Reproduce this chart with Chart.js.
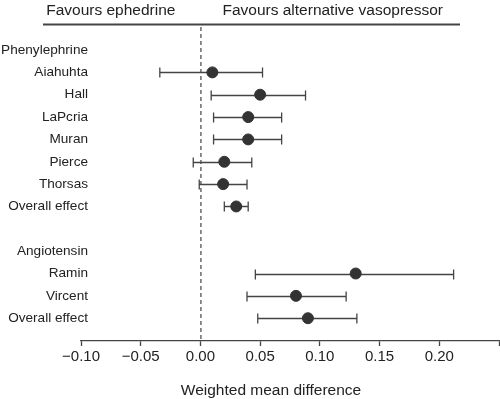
<!DOCTYPE html>
<html>
<head>
<meta charset="utf-8">
<script src="https://cdn.jsdelivr.net/npm/chart.js@4.4.1/dist/chart.umd.min.js"></script>
<style>
  html, body { margin: 0; padding: 0; background: #fff; overflow: hidden; }
  #wrap { width: 500px; height: 399px; }
</style>
</head>
<body>
<div id="wrap"><canvas id="forest"></canvas></div>
<script>
// rows top to bottom; group headers and the blank spacer have no estimate
const rowLabels = ['Phenylephrine', 'Aiahuhta', 'Hall', 'LaPcria', 'Muran', 'Pierce', 'Thorsas', 'Overall effect',
    '', 'Angiotensin', 'Ramin', 'Vircent', 'Overall effect'];
const estimates = [null, 0.010, 0.050, 0.040, 0.040, 0.020, 0.019, 0.030, null, null, 0.130, 0.080, 0.090];
const lowerCI   = [null, -0.034, 0.009, 0.011, 0.011, -0.006, -0.001, 0.020, null, null, 0.046, 0.039, 0.048];
const upperCI   = [null, 0.052, 0.088, 0.068, 0.068, 0.043, 0.039, 0.040, null, null, 0.212, 0.122, 0.131];
const xTicks = [-0.10, -0.05, 0.00, 0.05, 0.10, 0.15, 0.20, 0.25];

const INK = '#222';
const LINE = '#444';
const FONT = "'Liberation Sans', Arial, sans-serif";

const points = [];
estimates.forEach((v, i) => { if (v !== null) points.push({ x: v, y: i }); });

// whiskers, row labels, header, zero line
const forestPlugin = {
    id: 'forest',
    beforeDatasetsDraw(chart) {
        const { ctx, chartArea, scales: { x, y } } = chart;
        ctx.save();

        // dashed null line
        const x0 = x.getPixelForValue(0);
        ctx.strokeStyle = LINE;
        ctx.lineWidth = 1.2;
        ctx.setLineDash([4, 3]);
        ctx.beginPath();
        ctx.moveTo(x0 + 0.5, chartArea.top + 2);
        ctx.lineTo(x0 + 0.5, chartArea.bottom);
        ctx.stroke();
        ctx.setLineDash([]);

        // confidence intervals
        ctx.lineWidth = 1.3;
        estimates.forEach((v, i) => {
            if (v === null) return;
            const py = Math.round(y.getPixelForValue(i)) + 0.5;
            const a = x.getPixelForValue(lowerCI[i]);
            const b = x.getPixelForValue(upperCI[i]);
            ctx.beginPath();
            ctx.moveTo(a, py); ctx.lineTo(b, py);
            ctx.moveTo(a, py - 5); ctx.lineTo(a, py + 5);
            ctx.moveTo(b, py - 5); ctx.lineTo(b, py + 5);
            ctx.stroke();
        });

        // row labels
        ctx.fillStyle = INK;
        ctx.font = '13.6px ' + FONT;
        ctx.textAlign = 'right';
        ctx.textBaseline = 'middle';
        rowLabels.forEach((t, i) => {
            if (t) ctx.fillText(t, 88, y.getPixelForValue(i));
        });

        // header
        ctx.strokeStyle = LINE;
        ctx.lineWidth = 1.8;
        ctx.beginPath();
        ctx.moveTo(43, chartArea.top - 0.5);
        ctx.lineTo(460, chartArea.top - 0.5);
        ctx.stroke();
        ctx.font = '15.5px ' + FONT;
        ctx.textAlign = 'right';
        ctx.fillText('Favours ephedrine', x0 - 25, 11);
        ctx.textAlign = 'left';
        ctx.fillText('Favours alternative vasopressor', x0 + 22, 11);

        // axis title
        ctx.textAlign = 'center';
        ctx.fillText('Weighted mean difference', 271, 391);
        ctx.restore();
    }
};

new Chart(document.getElementById('forest'), {
    type: 'scatter',
    data: {
        datasets: [{
            data: points,
            backgroundColor: '#333',
            borderColor: '#333',
            pointRadius: 5.5,
            pointHoverRadius: 5.5
        }]
    },
    options: {
        responsive: true,
        maintainAspectRatio: false,
        animation: false,
        events: [],
        layout: { autoPadding: false, padding: { top: 25, left: 81, right: 1, bottom: 0 } },
        plugins: {
            legend: { display: false },
            tooltip: { enabled: false }
        },
        scales: {
            x: {
                type: 'linear',
                min: -0.10,
                max: 0.25,
                afterBuildTicks: scale => { scale.ticks = xTicks.map(v => ({ value: v })); },
                afterFit: scale => {
                    scale.height = 58;
                    scale.paddingLeft = 0;
                    scale.paddingRight = 0;
                },
                grid: { display: true, drawOnChartArea: false, drawTicks: true, tickLength: 5, tickColor: LINE, tickWidth: 1.3 },
                border: { display: true, color: LINE, width: 1.3 },
                ticks: {
                    autoSkip: false,
                    maxRotation: 0,
                    padding: 2,
                    color: INK,
                    font: { family: FONT, size: 15 },
                    callback: v => v > 0.24 ? '' : v.toFixed(2).replace('-', '\u2212')
                }
            },
            y: {
                type: 'linear',
                display: false,
                reverse: true,
                min: -1.12,
                max: 13.02
            }
        }
    },
    plugins: [forestPlugin]
});
</script>
</body>
</html>
